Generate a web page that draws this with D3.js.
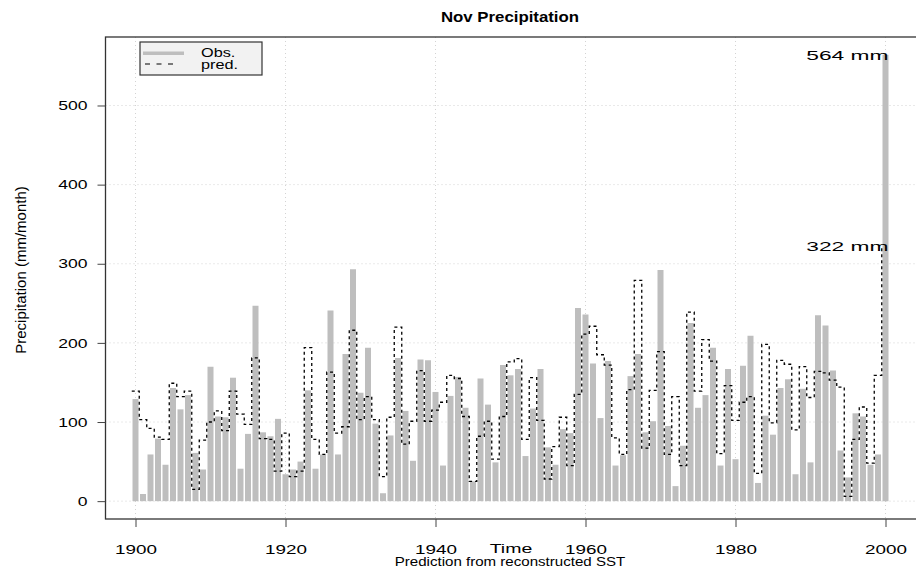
<!DOCTYPE html>
<html>
<head>
<meta charset="utf-8">
<script src="https://cdn.jsdelivr.net/npm/d3@7"></script>
<style>
    body { margin: 0; background: #ffffff; }
    #chart-area { width: 916px; height: 574px; }
    text { font-family: "Liberation Sans", Arial, Helvetica, sans-serif; fill: #000; }
</style>
</head>
<body>
<div id="chart-area"></div>
<script>
/* * * * * * * * * * * * * *
*   Nov precipitation      *
* * * * * * * * * * * * * */

// observed November precipitation (mm/month), 1900 - 2000
const obsValues = [
    129, 9, 59, 79, 46, 143, 116, 134, 61, 40,
    170, 107, 106, 156, 41, 85, 247, 87, 82, 104,
    34, 40, 50, 140, 41, 59, 241, 59, 186, 293,
    137, 194, 98, 10, 83, 181, 114, 51, 179, 178,
    138, 45, 133, 157, 118, 25, 155, 122, 49, 172,
    159, 167, 57, 117, 167, 68, 46, 91, 86, 244,
    236, 174, 105, 177, 45, 58, 158, 186, 87, 101,
    292, 95, 19, 70, 225, 118, 134, 194, 45, 167,
    53, 171, 209, 23, 108, 84, 143, 154, 34, 142,
    49, 235, 222, 165, 64, 30, 111, 107, 46, 59,
    564
];

// predicted from reconstructed SST
const predValues = [
    139, 103, 92, 81, 78, 149, 132, 139, 15, 77,
    100, 114, 89, 139, 110, 97, 181, 79, 78, 38,
    86, 31, 38, 194, 78, 59, 163, 86, 94, 216,
    103, 132, 103, 31, 106, 220, 72, 101, 165, 101,
    115, 125, 159, 155, 107, 25, 82, 101, 53, 107,
    176, 180, 78, 156, 102, 28, 69, 106, 45, 135,
    211, 221, 185, 172, 80, 59, 141, 279, 67, 140,
    189, 59, 132, 45, 239, 139, 204, 177, 60, 146,
    102, 125, 132, 35, 198, 99, 178, 173, 90, 170,
    131, 164, 162, 153, 144, 6, 78, 119, 48, 159,
    322
];

const startYear = 1900;
const years = d3.range(startYear, startYear + obsValues.length);

const xTickValues = [1900, 1920, 1940, 1960, 1980, 2000];
const yTickValues = [0, 100, 200, 300, 400, 500];
const legendLabels = ["Obs.", "pred."];
const annotations = [
    {year: 2000, value: 564, label: "564 mm"},
    {year: 2000, value: 322, label: "322 mm"}
];

class PrecipVis {

    constructor(parentElement) {
        this.parentElement = parentElement;
        this.data = years.map((y, i) => ({year: y, obs: obsValues[i], pred: predValues[i]}));
        this.initVis();
    }

    // text in the reference is stretched sideways, so widen glyphs a bit
    stretch(sel, factor) {
        sel.each(function () {
            let w = this.getComputedTextLength();
            d3.select(this)
                .attr("textLength", w * factor)
                .attr("lengthAdjust", "spacingAndGlyphs");
        });
        return sel;
    }

    initVis() {
        let vis = this;

        vis.width = 916;
        vis.height = 574;

        vis.svg = d3.select("#" + vis.parentElement).append("svg")
            .attr("width", vis.width)
            .attr("height", vis.height);

        // R style padded ranges (4% each side)
        vis.x = d3.scaleLinear()
            .domain([1896, 2004])
            .range([105.5, 915.5]);

        vis.y = d3.scaleLinear()
            .domain([-22.56, 586.56])
            .range([519, 37]);

        // grid
        vis.svg.append("g").attr("class", "grid")
            .selectAll("line.gx")
            .data(xTickValues)
            .enter().append("line")
            .attr("x1", d => vis.x(d)).attr("x2", d => vis.x(d))
            .attr("y1", 37).attr("y2", 519)
            .attr("stroke", "#d3d3d3")
            .attr("stroke-dasharray", "1,3");

        vis.svg.select(".grid")
            .selectAll("line.gy")
            .data(yTickValues)
            .enter().append("line")
            .attr("x1", 105.5).attr("x2", 916)
            .attr("y1", d => vis.y(d)).attr("y2", d => vis.y(d))
            .attr("stroke", "#d3d3d3")
            .attr("stroke-dasharray", "1,3");

        // observed bars
        vis.svg.append("g").attr("class", "bars")
            .selectAll("line")
            .data(vis.data)
            .enter().append("line")
            .attr("x1", d => vis.x(d.year)).attr("x2", d => vis.x(d.year))
            .attr("y1", vis.y(0))
            .attr("y2", d => vis.y(d.obs))
            .attr("stroke", "#bebebe")
            .attr("stroke-width", 6);

        // predicted step line
        vis.line = d3.line()
            .x(d => vis.x(d.year - 0.5))
            .y(d => vis.y(d.pred))
            .curve(d3.curveStepAfter);

        vis.svg.append("path")
            .datum(vis.data)
            .attr("d", vis.line)
            .attr("fill", "none")
            .attr("stroke", "#000")
            .attr("stroke-width", 1.3)
            .attr("stroke-dasharray", "3,3");

        // frame (right edge falls just outside the window)
        vis.svg.append("rect")
            .attr("x", 105.5).attr("y", 37)
            .attr("width", 815).attr("height", 482)
            .attr("fill", "none")
            .attr("stroke", "#333")
            .attr("stroke-width", 1.3);

        // axes
        vis.xAxis = d3.axisBottom(vis.x)
            .tickValues(xTickValues)
            .tickFormat(d3.format("d"))
            .tickSize(8)
            .tickPadding(18);

        vis.yAxis = d3.axisLeft(vis.y)
            .tickValues(yTickValues)
            .tickSize(8)
            .tickPadding(10);

        let gx = vis.svg.append("g")
            .attr("class", "axis x-axis")
            .attr("transform", "translate(0,519)")
            .call(vis.xAxis);

        let gy = vis.svg.append("g")
            .attr("class", "axis y-axis")
            .attr("transform", "translate(105.5,0)")
            .call(vis.yAxis);

        [gx, gy].forEach(g => {
            g.select(".domain").remove();
            g.selectAll(".tick line").attr("stroke", "#444");
            g.selectAll(".tick text")
                .attr("font-family", "Liberation Sans, Arial, sans-serif")
                .attr("font-size", 13)
                .attr("fill", "#000");
        });
        vis.stretch(gx.selectAll(".tick text"), 1.45);
        vis.stretch(gy.selectAll(".tick text"), 1.35);

        // titles
        vis.stretch(vis.svg.append("text")
            .attr("x", 510).attr("y", 22)
            .attr("text-anchor", "middle")
            .attr("font-size", 14)
            .attr("font-weight", "bold")
            .text("Nov Precipitation"), 1.2);

        vis.stretch(vis.svg.append("text")
            .attr("x", 511).attr("y", 553)
            .attr("text-anchor", "middle")
            .attr("font-size", 13)
            .text("Time"), 1.5);

        vis.stretch(vis.svg.append("text")
            .attr("x", 510).attr("y", 566)
            .attr("text-anchor", "middle")
            .attr("font-size", 13)
            .text("Prediction from reconstructed SST"), 1.16);

        vis.svg.append("text")
            .attr("transform", "translate(26,270) rotate(-90)")
            .attr("text-anchor", "middle")
            .attr("font-size", 15)
            .text("Precipitation (mm/month)");

        // annotations at the last year
        vis.stretch(vis.svg.selectAll("text.anno")
            .data(annotations)
            .enter().append("text")
            .attr("class", "anno")
            .attr("x", d => vis.x(d.year) + 3)
            .attr("y", d => vis.y(d.value) + 5)
            .attr("text-anchor", "end")
            .attr("font-size", 13)
            .text(d => d.label), 1.75);

        // legend
        vis.legend = vis.svg.append("g")
            .attr("class", "legend")
            .attr("transform", "translate(140,42)");

        vis.legend.append("rect")
            .attr("width", 122).attr("height", 33)
            .attr("fill", "#f2f2f2")
            .attr("stroke", "#333")
            .attr("stroke-width", 1.2);

        vis.legend.append("line")
            .attr("x1", 3).attr("x2", 44)
            .attr("y1", 11.3).attr("y2", 11.3)
            .attr("stroke", "#bebebe")
            .attr("stroke-width", 3.5);

        vis.legend.append("line")
            .attr("x1", 5).attr("x2", 33)
            .attr("y1", 22).attr("y2", 22)
            .attr("stroke", "#000")
            .attr("stroke-width", 1.2)
            .attr("stroke-dasharray", "5,6.5");

        vis.stretch(vis.legend.selectAll("text")
            .data(legendLabels)
            .enter().append("text")
            .attr("x", 61)
            .attr("y", (d, i) => 15 + i * 11.5)
            .attr("font-size", 12.5)
            .text(d => d), 1.3);
    }
}

new PrecipVis("chart-area");
</script>
</body>
</html>
